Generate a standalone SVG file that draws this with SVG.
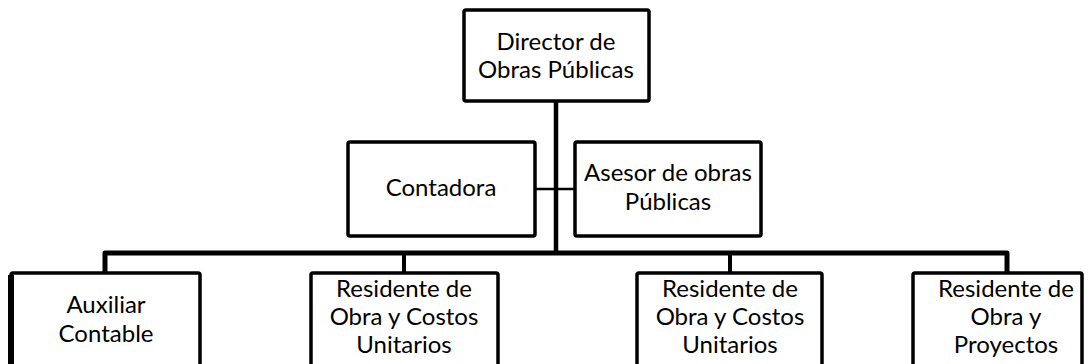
<svg xmlns="http://www.w3.org/2000/svg" width="1092" height="364" viewBox="0 0 1092 364">
<style>
.box{fill:#fff;stroke:#000;stroke-width:3.5;stroke-linejoin:round}
.t{font-family:Lato,"Liberation Sans",sans-serif;font-size:24px;fill:#000;text-anchor:middle}
.c{stroke:#000;fill:none}
</style>
<rect width="1092" height="364" fill="#fff"/>
<g id="connectors">
<line class="c" x1="556" y1="101" x2="556" y2="255" stroke-width="4.5"/>
<line class="c" x1="535" y1="189" x2="575" y2="189" stroke-width="2.5"/>
<polyline class="c" points="105,273 105,253 1007,253 1007,273" stroke-width="5" stroke-linejoin="round"/>
<line class="c" x1="404" y1="253" x2="404" y2="273" stroke-width="4"/>
<line class="c" x1="730" y1="253" x2="730" y2="273" stroke-width="4"/>
</g>
<g id="director">
<rect class="box" x="464" y="10" width="185" height="91" rx="2"/>
<text class="t" x="556" y="50">Director de</text>
<text class="t" x="556" y="78">Obras Públicas</text>
</g>
<g id="contadora">
<rect class="box" x="348" y="142" width="187" height="94" rx="2"/>
<text class="t" x="441" y="196">Contadora</text>
</g>
<g id="asesor">
<rect class="box" x="575" y="142" width="186" height="94" rx="2"/>
<text class="t" x="668" y="181">Asesor de obras</text>
<text class="t" x="668" y="210">Públicas</text>
</g>
<g id="auxiliar">
<rect class="box" x="11" y="273" width="189" height="100" rx="2"/>
<line x1="11" y1="275" x2="11" y2="364" stroke="#000" stroke-width="6"/>
<text class="t" x="106" y="313">Auxiliar</text>
<text class="t" x="106" y="342">Contable</text>
</g>
<g id="residente1">
<rect class="box" x="311" y="273" width="187" height="100" rx="2"/>
<text class="t" x="404" y="297">Residente de</text>
<text class="t" x="404" y="325">Obra y Costos</text>
<text class="t" x="404" y="353">Unitarios</text>
</g>
<g id="residente2">
<rect class="box" x="637" y="273" width="185" height="100" rx="2"/>
<text class="t" x="730" y="297">Residente de</text>
<text class="t" x="730" y="325">Obra y Costos</text>
<text class="t" x="730" y="353">Unitarios</text>
</g>
<g id="residente3">
<rect class="box" x="913" y="273" width="169" height="100" rx="2"/>
<text class="t" x="1006" y="297">Residente de</text>
<text class="t" x="1006" y="325">Obra y</text>
<text class="t" x="1006" y="353">Proyectos</text>
</g>
</svg>
